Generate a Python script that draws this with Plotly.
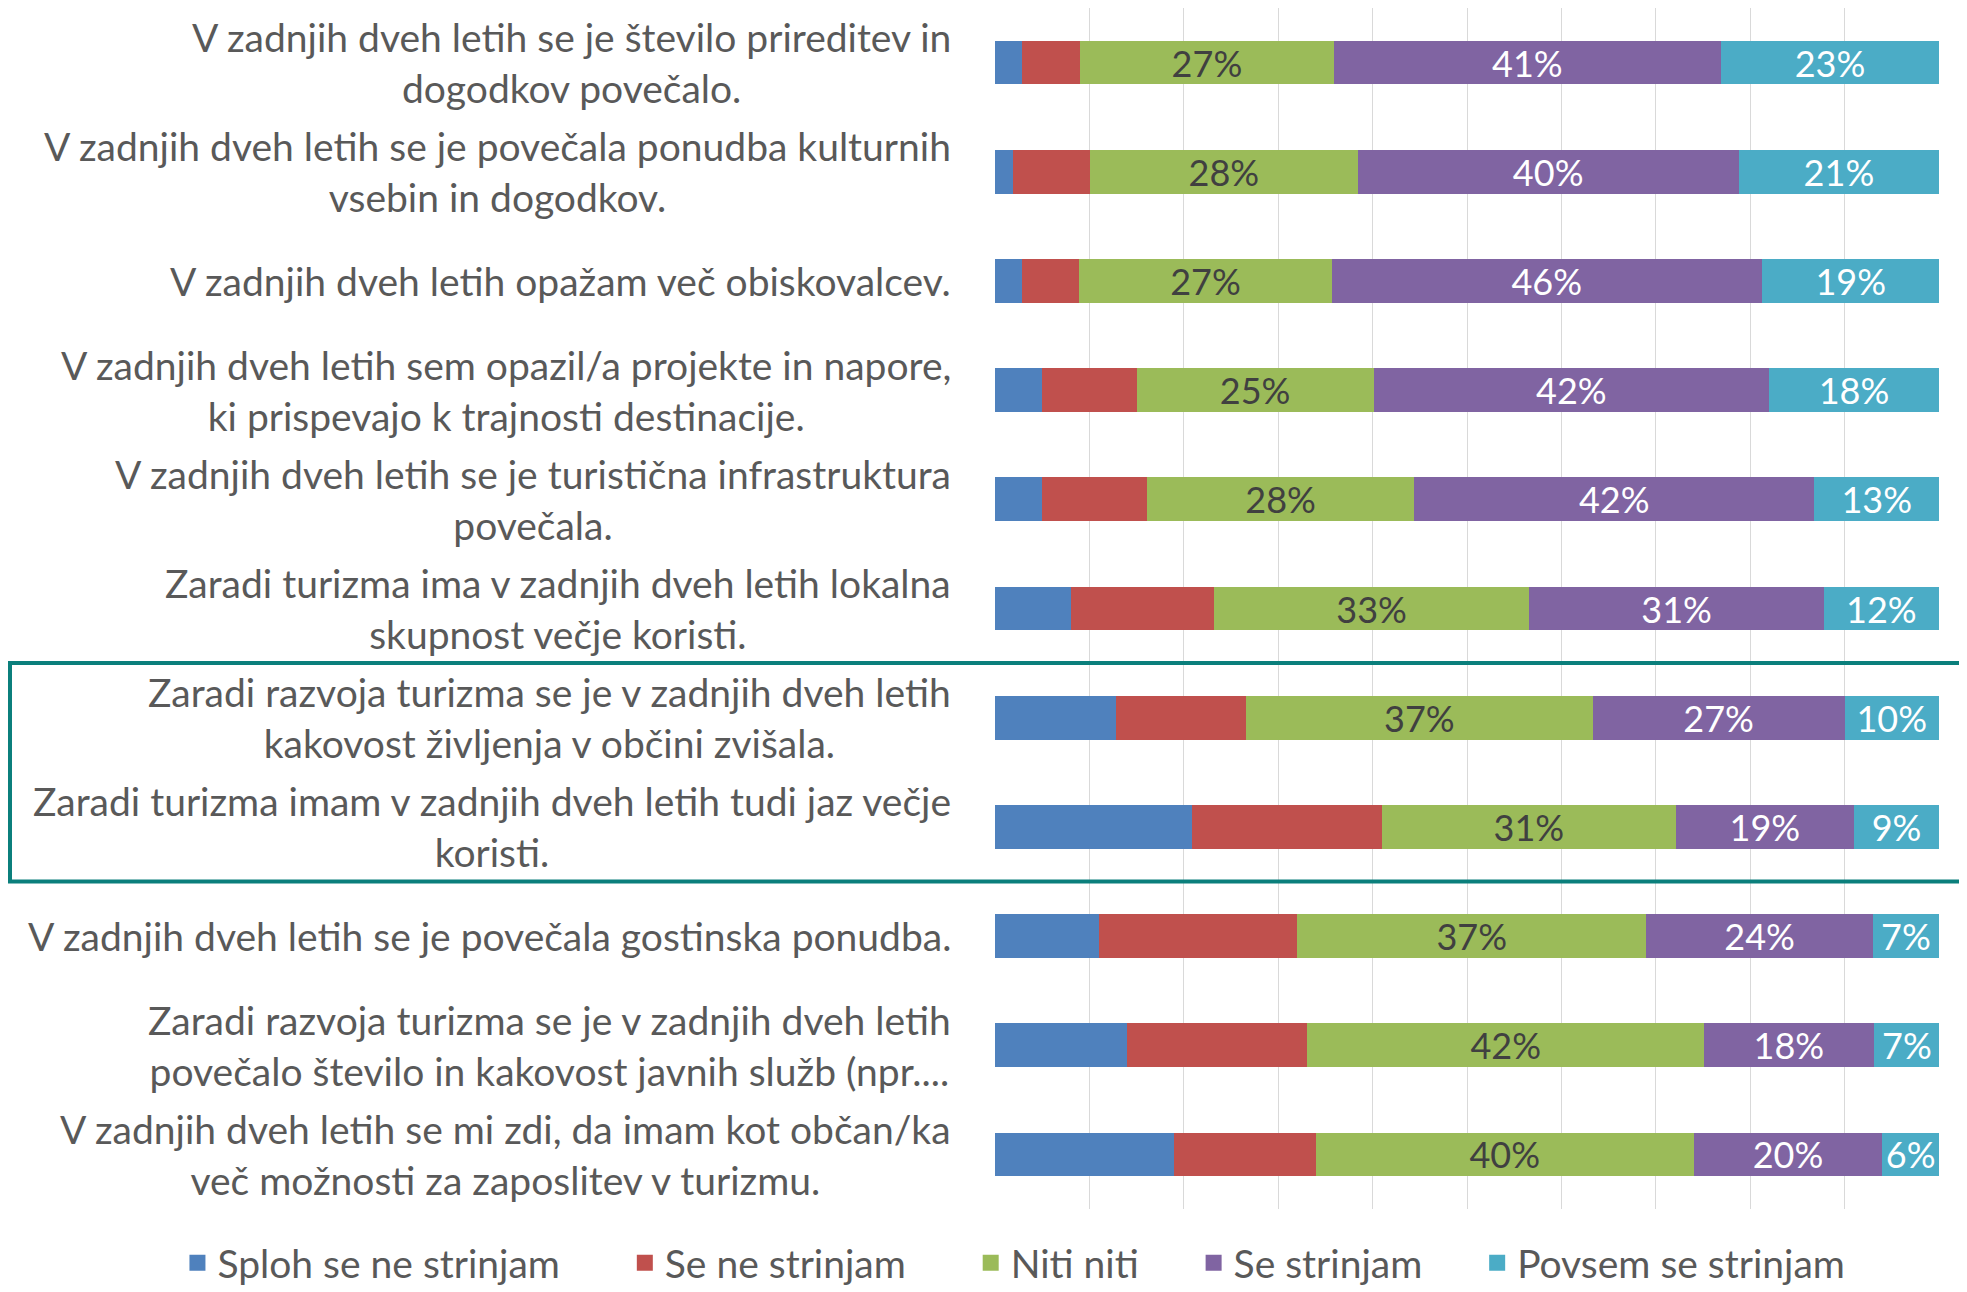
import plotly.graph_objects as go

# figure sits 8px inside the page (default body margin), so size/positions are offset by 8
OFF = 8
W, H = 1967 - OFF, 1292 - OFF

categories = [
    "V zadnjih dveh letih se je število prireditev in<br>dogodkov povečalo.",
    "V zadnjih dveh letih se je povečala ponudba kulturnih<br>vsebin in dogodkov.",
    "V zadnjih dveh letih opažam več obiskovalcev.",
    "V zadnjih dveh letih sem opazil/a projekte in napore,<br>ki prispevajo k trajnosti destinacije.",
    "V zadnjih dveh letih se je turistična infrastruktura<br>povečala.",
    "Zaradi turizma ima v zadnjih dveh letih lokalna<br>skupnost večje koristi.",
    "Zaradi razvoja turizma se je v zadnjih dveh letih<br>kakovost življenja v občini zvišala.",
    "Zaradi turizma imam v zadnjih dveh letih tudi jaz večje<br>koristi.",
    "V zadnjih dveh letih se je povečala gostinska ponudba.",
    "Zaradi razvoja turizma se je v zadnjih dveh letih<br>povečalo število in kakovost javnih služb (npr....",
    "V zadnjih dveh letih se mi zdi, da imam kot občan/ka<br>več možnosti za zaposlitev v turizmu.",
]

series_names = ["Sploh se ne strinjam", "Se ne strinjam", "Niti niti", "Se strinjam", "Povsem se strinjam"]

sploh_se_ne = [2.9, 1.9, 2.9, 5.0, 5.0, 8.1, 12.8, 20.9, 11.0, 14.0, 19.0]
se_ne = [6.1, 8.2, 6.0, 10.0, 11.1, 15.1, 13.8, 20.1, 21.0, 19.1, 15.0]
niti_niti = [26.9, 28.3, 26.8, 25.1, 28.3, 33.4, 36.7, 31.1, 37.0, 42.0, 40.0]
se_strinjam = [41.0, 40.4, 45.5, 41.9, 42.4, 31.2, 26.7, 18.9, 24.0, 18.0, 20.0]
povsem = [23.1, 21.2, 18.9, 18.0, 13.2, 12.2, 10.0, 9.0, 7.0, 7.0, 6.0]

series_values = [sploh_se_ne, se_ne, niti_niti, se_strinjam, povsem]
colors = ["#4F81BD", "#C0504D", "#9BBB59", "#8064A2", "#4BACC6"]
show_labels = [False, False, True, True, True]
label_colors = ["#FFFFFF", "#FFFFFF", "#404040", "#FFFFFF", "#FFFFFF"]

FONT = "Lato"
TXT = "#595959"
LABEL_SIZE = 39

fig = go.Figure()
for name, vals, col, show, lc in zip(series_names, series_values, colors, show_labels, label_colors):
    fig.add_trace(go.Bar(
        y=categories, x=vals, name=name, orientation="h",
        marker=dict(color=col, line=dict(width=0)),
        text=[f"{round(v):d}%" for v in vals] if show else None,
        textposition="inside" if show else "none",
        insidetextanchor="middle",
        textfont=dict(color=lc, size=36, family=FONT),
        hoverinfo="x+name", showlegend=False,
    ))

# legend entries with larger square swatches (trailing nbsp widen the gaps)
pads = [6, 6, 5, 5, 0]
for name, col, p in zip(series_names, colors, pads):
    fig.add_trace(go.Scatter(
        x=[None], y=[None], mode="markers", name=name + "\u00a0" * p,
        marker=dict(symbol="square", size=22, color=col), showlegend=True,
    ))

x0p = (995 - OFF) / W
x1p = (1939 - OFF) / W

# category labels, centered lines, right-aligned block
for i, c in enumerate(categories):
    fig.add_annotation(
        x=x0p, xref="paper", y=i, yref="y", text=c,
        xanchor="right", yanchor="middle", align="center",
        xshift=-42, showarrow=False,
        font=dict(family=FONT, size=LABEL_SIZE, color=TXT),
    )

# highlight box around two rows
fig.add_shape(
    type="rect", xref="paper", yref="y",
    x0=2 / W, x1=(1961 - OFF) / W,
    y0=5.5, y1=7.5,
    line=dict(color="#0B7F7C", width=4), fillcolor="rgba(0,0,0,0)", layer="above",
)

fig.update_layout(
    width=W, height=H,
    barmode="stack", bargap=0.6,
    plot_bgcolor="white", paper_bgcolor="white",
    margin=dict(l=0, r=0, t=0, b=0, autoexpand=False),
    font=dict(family=FONT, color=TXT, size=LABEL_SIZE),
    uniformtext=dict(mode="show", minsize=36),
    xaxis=dict(domain=[x0p, x1p], range=[0, 100], dtick=10, showgrid=True,
               gridcolor="#D9D9D9", gridwidth=1.3, showticklabels=False, zeroline=False,
               showline=False, fixedrange=True),
    yaxis=dict(domain=[(1292 - 1209) / H, 1], range=[10.5, -0.5], showticklabels=False,
               showgrid=False, zeroline=False, showline=False, fixedrange=True),
    legend=dict(orientation="h", xref="container", yref="container", x=0.5135,
                y=1 - (1263 - OFF) / H,
                xanchor="center", yanchor="middle", font=dict(family=FONT, size=LABEL_SIZE, color=TXT),
                traceorder="normal", itemsizing="trace"),
    showlegend=True,
)

fig.write_html("out.html")
